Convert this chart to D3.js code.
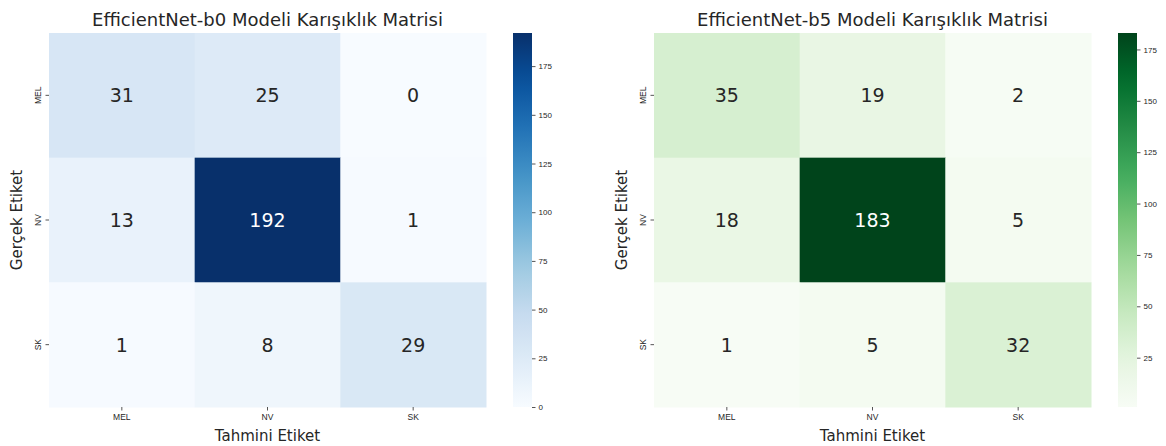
<!DOCTYPE html>
<html>
<head>
<meta charset="utf-8">
<script src="https://cdn.jsdelivr.net/npm/d3@7"></script>
<style>
  body { margin: 0; background: #fff; }
  svg { font-family: "DejaVu Sans", sans-serif; display: block; }
  .tick text { fill: #262626; }
  .domain { display: none; }
</style>
</head>
<body>
<svg id="chart" width="1166" height="446"></svg>
<script>
const classes = ["MEL", "NV", "SK"];
const b0Matrix = [
  [31, 25, 0],
  [13, 192, 1],
  [1, 8, 29]
];
const b5Matrix = [
  [35, 19, 2],
  [18, 183, 5],
  [1, 5, 32]
];
const colorbarTicks = [0, 25, 50, 75, 100, 125, 150, 175];
const titles = [
  "EfficientNet-b0 Modeli Karışıklık Matrisi",
  "EfficientNet-b5 Modeli Karışıklık Matrisi"
];
const xLabel = "Tahmini Etiket";
const yLabel = "Gerçek Etiket";

const svg = d3.select("#chart");

// matplotlib style linear interpolation through the ColorBrewer stops
const blues = d3.piecewise(d3.interpolateRgb, d3.schemeBlues[9]);
const greens = d3.piecewise(d3.interpolateRgb, d3.schemeGreens[9]);

const panels = [
  { data: b0Matrix, cmap: blues, dx: 0, title: titles[0] },
  { data: b5Matrix, cmap: greens, dx: 605, title: titles[1] }
];

const heatTop = 33, heatBottom = 407;
const heatLeft = 49, heatRight = 486;
const cbLeft = 513, cbWidth = 19;

panels.forEach((p, pi) => {
  const g = svg.append("g").attr("transform", `translate(${p.dx},0)`);
  const flat = p.data.flat();
  const vmin = d3.min(flat), vmax = d3.max(flat);
  const color = d3.scaleSequential(p.cmap).domain([vmin, vmax]);

  const x = d3.scaleBand().domain(classes).range([heatLeft, heatRight]);
  const y = d3.scaleBand().domain(classes).range([heatTop, heatBottom]);

  const cells = [];
  p.data.forEach((row, r) => row.forEach((v, c) => cells.push({ r: classes[r], c: classes[c], v })));

  g.selectAll("rect.cell")
    .data(cells)
    .join("rect")
    .attr("class", "cell")
    .attr("x", d => x(d.c))
    .attr("y", d => y(d.r))
    .attr("width", x.bandwidth() + 0.5)
    .attr("height", y.bandwidth() + 0.5)
    .attr("fill", d => color(d.v));

  g.selectAll("text.annot")
    .data(cells)
    .join("text")
    .attr("class", "annot")
    .attr("x", d => x(d.c) + x.bandwidth() / 2)
    .attr("y", d => y(d.r) + y.bandwidth() / 2)
    .attr("text-anchor", "middle")
    .attr("dominant-baseline", "central")
    .attr("font-size", 19)
    .attr("fill", d => (d3.lab(color(d.v)).l < 50 ? "#ffffff" : "#262626"))
    .text(d => d.v);

  // axes
  const xAxis = d3.axisBottom(x).tickSize(3.5).tickPadding(3);
  g.append("g")
    .attr("transform", `translate(0,${heatBottom})`)
    .call(xAxis)
    .call(s => s.selectAll("text").attr("font-size", 8.5))
    .call(s => s.selectAll("line").attr("stroke", "#555"));

  const yAxis = d3.axisLeft(y).tickSize(3.5).tickPadding(3);
  g.append("g")
    .attr("transform", `translate(${heatLeft},0)`)
    .call(yAxis)
    .call(s => s.selectAll("line").attr("stroke", "#555"))
    .call(s => s.selectAll("text")
      .attr("font-size", 8.5)
      .attr("text-anchor", "middle")
      .attr("x", 0)
      .attr("y", 0)
      .attr("dy", null)
      .attr("transform", "translate(-8.5,0) rotate(-90)"));

  g.append("text")
    .attr("x", (heatLeft + heatRight) / 2)
    .attr("y", 441)
    .attr("text-anchor", "middle")
    .attr("font-size", 15)
    .attr("fill", "#262626")
    .text(xLabel);

  g.append("text")
    .attr("transform", `translate(22,${(heatTop + heatBottom) / 2}) rotate(-90)`)
    .attr("text-anchor", "middle")
    .attr("font-size", 15)
    .attr("fill", "#262626")
    .text(yLabel);

  g.append("text")
    .attr("x", (heatLeft + heatRight) / 2)
    .attr("y", 26)
    .attr("text-anchor", "middle")
    .attr("font-size", 18)
    .attr("fill", "#262626")
    .text(p.title);

  // colorbar
  const cbScale = d3.scaleLinear().domain([vmin, vmax]).range([heatBottom, heatTop]);
  const gradId = `grad${pi}`;
  const grad = svg.append("defs").append("linearGradient")
    .attr("id", gradId)
    .attr("x1", 0).attr("y1", 1).attr("x2", 0).attr("y2", 0);
  d3.range(0, 1.0001, 0.05).forEach(t => {
    grad.append("stop")
      .attr("offset", t)
      .attr("stop-color", p.cmap(t));
  });
  g.append("rect")
    .attr("x", cbLeft)
    .attr("y", heatTop)
    .attr("width", cbWidth)
    .attr("height", heatBottom - heatTop)
    .attr("fill", `url(#${gradId})`);

  const cbAxis = d3.axisRight(cbScale)
    .tickValues(colorbarTicks.filter(t => t >= vmin && t <= vmax))
    .tickSize(3.5)
    .tickPadding(3);
  g.append("g")
    .attr("transform", `translate(${cbLeft + cbWidth},0)`)
    .call(cbAxis)
    .call(s => s.selectAll("text").attr("font-size", 8).attr("fill", "#444"))
    .call(s => s.selectAll("line").attr("stroke", "#555"));
});
</script>
</body>
</html>
